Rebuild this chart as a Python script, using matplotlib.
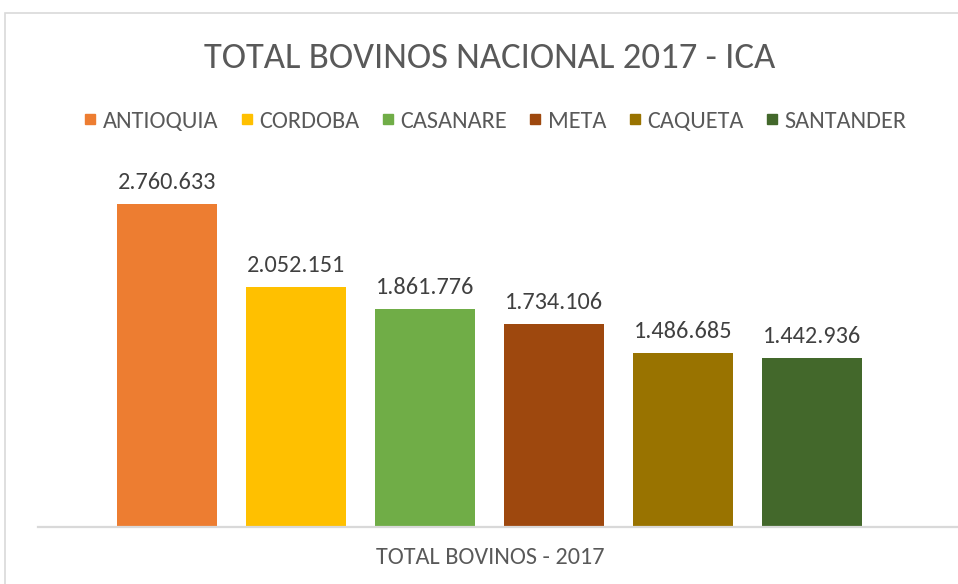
import matplotlib
matplotlib.use("Agg")
import matplotlib.pyplot as plt
from matplotlib.lines import Line2D
from matplotlib.patches import Rectangle
from matplotlib import font_manager

departments = ["ANTIOQUIA", "CORDOBA", "CASANARE", "META", "CAQUETA", "SANTANDER"]
values = [2760633, 2052151, 1861776, 1734106, 1486685, 1442936]
colors = ["#ED7D31", "#FFC000", "#70AD47", "#9E480E", "#997300", "#43682B"]
title = "TOTAL BOVINOS NACIONAL 2017 - ICA"
xlabel = "TOTAL BOVINOS - 2017"

avail = {f.name for f in font_manager.fontManager.ttflist}
fam = [f for f in ["Carlito", "Liberation Sans Narrow", "Open Sans", "DejaVu Sans"] if f in avail]
plt.rcParams["font.family"] = fam

W, H = 958, 584
fig = plt.figure(figsize=(W / 100, H / 100), dpi=100)

def fx(px):
    return px / W

def fy(py):
    return 1 - py / H

# chart frame
fig.patches.append(Rectangle((fx(5), fy(600)), fx(1000), fy(13) - fy(600),
                             transform=fig.transFigure, fill=False,
                             edgecolor="#D9D9D9", linewidth=1.2))

ax = fig.add_axes([fx(38), fy(527), fx(941) - fx(38), fy(170) - fy(527)])
ax.set_xlim(-1, 6)
ax.set_ylim(0, 3051193)

xs = list(range(len(values)))
bars = ax.bar(xs, values, width=0.775, color=colors, zorder=2)
for x, v in zip(xs, values):
    label = f"{v:,}".replace(",", ".")
    ax.annotate(label, (x, v), xytext=(0, 8), textcoords="offset points",
                ha="center", va="bottom", fontsize=17.5, color="#404040")

for s in ["top", "right", "left"]:
    ax.spines[s].set_visible(False)
ax.spines["bottom"].set_color("#D9D9D9")
ax.spines["bottom"].set_linewidth(1.6)
ax.spines["bottom"].set_bounds(-1, 7)
ax.spines["bottom"].set_clip_on(False)
ax.set_xticks([])
ax.set_yticks([])
ax.patch.set_alpha(0)

fig.text(fx(490), fy(58), title, ha="center", va="center", fontsize=26.5, color="#595959")
fig.text(fx(490), fy(558), xlabel, ha="center", va="center", fontsize=17.5, color="#595959")

handles = [Line2D([], [], marker="s", linestyle="none", markersize=6.5,
                  markerfacecolor=c, markeredgecolor=c) for c in colors]
fig.legend(handles, departments, loc="center", bbox_to_anchor=(fx(495), fy(121)),
           ncol=6, frameon=False, fontsize=17.5, labelcolor="#595959",
           handlelength=0.6, handletextpad=0.23, columnspacing=0.85)

fig.savefig("out.png", dpi=100, facecolor="white")
